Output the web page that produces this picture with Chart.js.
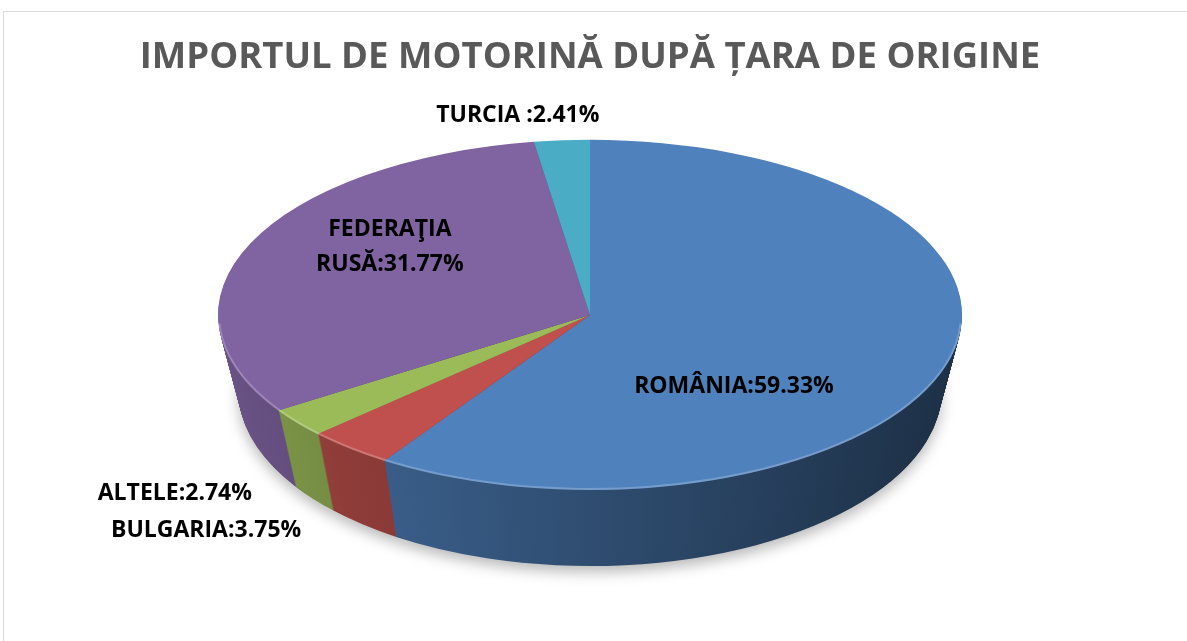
<!DOCTYPE html>
<html>
<head>
<meta charset="utf-8">
<script src="https://cdn.jsdelivr.net/npm/chart.js@4.4.1/dist/chart.umd.min.js"></script>
<style>
    html, body { margin: 0; padding: 0; background: #fff; }
    #wrap { position: relative; width: 1187px; height: 641px; overflow: hidden; }
    #frame { position: absolute; left: 3px; top: 11px; right: -2px; bottom: -2px; border: 1px solid #d9d9d9; }
    #pie { position: absolute; left: 0; top: 0; }
</style>
</head>
<body>
<div id="wrap">
    <div id="frame"></div>
    <canvas id="pie" width="1187" height="641"></canvas>
</div>
<script>
const countries = ['ROMÂNIA', 'BULGARIA', 'ALTELE', 'FEDERAŢIA RUSĂ', 'TURCIA'];
const shares = [59.33, 3.75, 2.74, 31.77, 2.41];
const sliceColors = ['#4f81bd', '#c0504d', '#9bbb59', '#8064a2', '#4bacc6'];
const labelText = [['ROMÂNIA:59.33%'], ['BULGARIA:3.75%'], ['ALTELE:2.74%'], ['FEDERAŢIA', 'RUSĂ:31.77%'], ['TURCIA :2.41%']];

// where each label sits, in units of the ellipse radii from the pie centre
const labelSpots = [[0.387, 0.41], [-1.032, 1.229], [-1.116, 1.017], [-0.538, -0.39], [-0.194, -1.137]];

const RX = 372;      // horizontal radius on screen
const DEPTH = 76;    // thickness of the pie
const TAPER = 0.055; // bottom rim is a bit narrower (fake perspective)

function shade(hex, f) {
    const n = parseInt(hex.slice(1), 16);
    const r = Math.round(((n >> 16) & 255) * f);
    const g = Math.round(((n >> 8) & 255) * f);
    const b = Math.round((n & 255) * f);
    return `rgb(${r},${g},${b})`;
}

function stretch(ctx, a, k) {
    const sx = RX * (k || 1) / a.outerRadius;
    ctx.translate(a.x, 0);
    ctx.scale(sx, 1);
    ctx.translate(-a.x, 0);
}

const pie3d = {
    id: 'pie3d',
    beforeDatasetsDraw(chart) {
        const ctx = chart.ctx;
        const arcs = chart.getDatasetMeta(0).data;
        const a0 = arcs[0];
        const R = a0.outerRadius;
        const sides = arcs.map((a, i) => {
            const g = ctx.createLinearGradient(a0.x - R, 0, a0.x + R, 0);
            g.addColorStop(0, shade(sliceColors[i], 0.82));
            g.addColorStop(1, shade(sliceColors[i], 0.37));
            return g;
        });

        // side walls: stack of darker copies, lowest first
        for (let d = DEPTH; d >= 1; d--) {
            ctx.save();
            if (d === DEPTH) {
                ctx.shadowColor = 'rgba(0,0,0,0.28)';
                ctx.shadowBlur = 14;
                ctx.shadowOffsetY = 6;
            }
            ctx.translate(0, d);
            stretch(ctx, a0, 1 - TAPER * d / DEPTH);
            arcs.forEach((a, i) => {
                const orig = a.options;
                a.options = Object.assign({}, orig, { backgroundColor: sides[i], borderWidth: 0 });
                a.draw(ctx);
                a.options = orig;
            });
            ctx.restore();
        }

        // top face is drawn by the controller under the same stretch
        ctx.save();
        stretch(ctx, a0);
    },
    afterDatasetsDraw(chart) {
        const ctx = chart.ctx;
        ctx.restore();
        const a0 = chart.getDatasetMeta(0).data[0];
        const R = a0.outerRadius;

        // soft light rim along the front edge
        ctx.save();
        ctx.beginPath();
        ctx.ellipse(a0.x, a0.y, RX - 1, R - 1, 0, 0.05, Math.PI - 0.05);
        ctx.strokeStyle = 'rgba(255,255,255,0.22)';
        ctx.lineWidth = 2;
        ctx.stroke();
        ctx.restore();

        ctx.save();
        ctx.fillStyle = '#000';
        ctx.font = 'bold 23px "Open Sans"';
        ctx.textAlign = 'center';
        ctx.textBaseline = 'middle';
        labelText.forEach((lines, i) => {
            const x = a0.x + labelSpots[i][0] * RX;
            const y = a0.y + labelSpots[i][1] * R;
            lines.forEach((t, k) => {
                ctx.fillText(t, x, y + (k - (lines.length - 1) / 2) * 35);
            });
        });
        ctx.restore();
    }
};

new Chart(document.getElementById('pie'), {
    type: 'pie',
    data: {
        labels: countries,
        datasets: [{
            data: shares,
            backgroundColor: sliceColors,
            borderWidth: 0,
            clip: false
        }]
    },
    options: {
        responsive: false,
        animation: false,
        events: [],
        layout: { padding: { left: 0, right: 7, top: 0, bottom: 151 } },
        plugins: {
            legend: { display: false },
            tooltip: { enabled: false },
            title: {
                display: true,
                text: 'IMPORTUL DE MOTORINĂ DUPĂ ȚARA DE ORIGINE',
                color: '#595959',
                font: { family: 'Open Sans', size: 36.5, weight: 'bold' },
                padding: { top: 36, bottom: 60 }
            }
        }
    },
    plugins: [pie3d]
});
</script>
</body>
</html>
